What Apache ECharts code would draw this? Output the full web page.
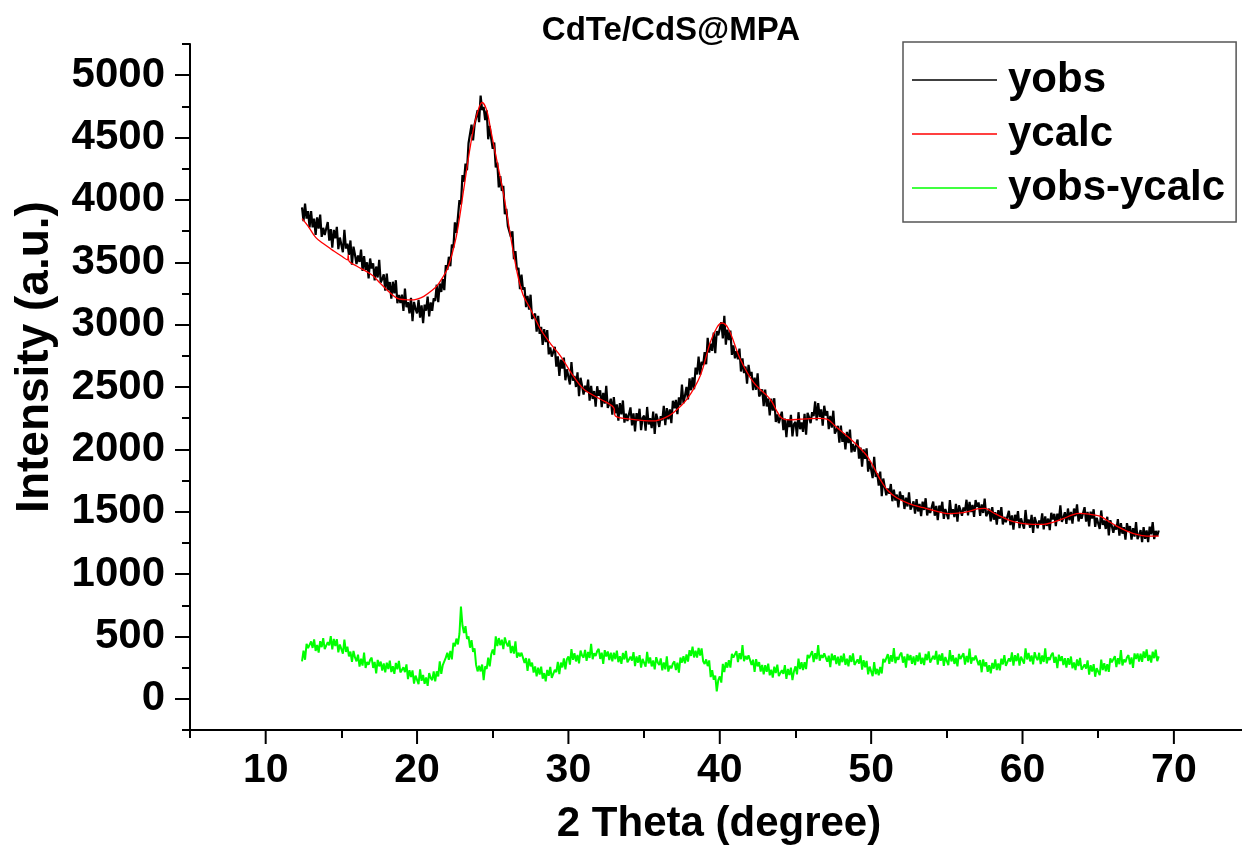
<!DOCTYPE html>
<html>
<head>
<meta charset="utf-8">
<script src="https://cdn.jsdelivr.net/npm/echarts@6/dist/echarts.min.js"></script>
<style>
html,body{margin:0;padding:0;background:#fff;}
#chart{width:1242px;height:849px;}
</style>
</head>
<body>
<div id="chart"></div>
<script>
// ---- data ----
const chartTitle = 'CdTe/CdS@MPA';
const xTitle = '2 Theta (degree)';
const yTitle = 'Intensity (a.u.)';
const seriesNames = ['yobs', 'ycalc', 'yobs-ycalc'];

// measurement grid (2 theta, degrees)
const thetaStart = 12.4;
const thetaStep = 0.1;

// observed intensity, one value per grid step (12.4 ... 69.0)
const yobs = [
3940,3830,3970,3850,3910,3780,
3910,3780,3850,3720,3860,3770,3882,3704,3776,3718,
3720,3822,3674,3766,3618,3760,3692,3784,3606,3698,
3710,3580,3760,3610,3650,3560,3675,3480,3625,3560,
3485,3554,3503,3602,3431,3550,3440,3500,3370,3530,
3450,3492,3354,3466,3378,3520,3338,3366,3404,3272,
3410,3276,3342,3208,3344,3250,3356,3172,3238,3174,
3240,3110,3290,3140,3180,3090,3214,3028,3182,3126,
3090,3198,3056,3154,3012,3160,3112,3224,3066,3178,
3110,3210,3190,3320,3180,3330,3262,3364,3276,3478,
3440,3544,3468,3642,3616,3820,3736,3862,3998,3964,
4200,4146,4292,4238,4454,4440,4604,4478,4602,4596,
4720,4623,4837,4720,4745,4640,4718,4486,4594,4492,
4410,4460,4260,4300,4100,4190,4072,4114,3886,3928,
3790,3806,3702,3748,3524,3590,3438,3456,3284,3402,
3280,3300,3140,3230,3120,3240,3046,3062,3088,2944,
3070,2926,2982,2838,2964,2860,2956,2762,2818,2744,
2730,2822,2664,2746,2588,2720,2648,2736,2554,2642,
2650,2520,2700,2550,2590,2500,2618,2426,2574,2512,
2440,2510,2460,2560,2390,2510,2404,2468,2342,2506,
2430,2474,2338,2452,2366,2510,2332,2364,2406,2278,
2420,2290,2360,2230,2370,2280,2392,2214,2286,2228,
2230,2336,2192,2288,2144,2290,2228,2326,2154,2252,
2270,2150,2340,2200,2250,2170,2302,2124,2286,2238,
2180,2266,2232,2348,2194,2330,2240,2320,2210,2390,
2330,2396,2282,2418,2354,2520,2370,2430,2500,2400,
2570,2474,2578,2482,2656,2600,2744,2598,2702,2676,
2780,2682,2894,2776,2848,2790,2936,2772,2948,2914,
2900,3020,2890,3070,2840,2960,2876,2952,2758,2834,
2730,2786,2722,2808,2624,2730,2612,2664,2526,2678,
2590,2622,2474,2576,2478,2610,2424,2448,2482,2346,
2480,2344,2408,2272,2406,2310,2410,2220,2280,2210,
2200,2302,2154,2246,2098,2240,2178,2276,2104,2202,
2220,2104,2298,2162,2216,2140,2284,2118,2292,2256,
2210,2298,2266,2384,2232,2370,2260,2320,2190,2350,
2270,2306,2162,2268,2174,2310,2126,2152,2188,2054,
2190,2060,2130,2000,2140,2050,2158,1976,2044,1982,
1980,2078,1926,2014,1862,2000,1924,2008,1822,1906,
1910,1770,1940,1780,1810,1710,1822,1624,1766,1698,
1632,1686,1644,1722,1584,1678,1590,1638,1534,1662,
1598,1632,1522,1612,1542,1656,1517,1546,1583,1484,
1601,1502,1563,1464,1581,1514,1608,1470,1532,1490,
1496,1582,1468,1546,1432,1550,1501,1580,1443,1522,
1537,1441,1593,1481,1521,1457,1563,1421,1551,1513,
1467,1534,1505,1596,1471,1578,1498,1554,1458,1594,
1538,1574,1466,1558,1490,1606,1464,1490,1524,1422,
1536,1436,1496,1396,1512,1444,1537,1398,1459,1416,
1421,1507,1393,1471,1357,1475,1426,1505,1368,1447,
1462,1364,1514,1400,1438,1372,1475,1330,1457,1416,
1367,1431,1399,1487,1359,1463,1386,1445,1352,1491,
1438,1483,1384,1485,1426,1551,1418,1453,1496,1403,
1526,1432,1498,1404,1526,1464,1559,1422,1485,1444,
1451,1536,1421,1498,1383,1500,1446,1520,1378,1452,
1462,1362,1510,1394,1430,1362,1460,1310,1432,1386,
1332,1392,1356,1440,1308,1408,1324,1376,1276,1408,
1348,1384,1276,1368,1300,1416,1280,1312,1352,1256,
1376,1283,1350,1257,1380,1319,1416,1281,1346,1307,
1350
];

// difference curve yobs-ycalc (plotted with its offset), same grid
const ydiff = [
300,387,313,440,407,393,
460,408,476,384,432,370,462,414,486,398,
390,454,428,502,396,480,424,478,372,436,
440,362,474,376,418,340,378,296,384,332,
300,354,258,322,266,370,248,296,274,312,
330,248,296,204,312,260,298,226,284,212,
290,238,306,214,262,200,288,236,304,212,
200,252,214,276,158,230,174,228,122,186,
190,118,236,144,192,120,172,104,206,168,
150,220,140,220,180,300,200,270,270,330,
370,312,384,316,448,420,483,436,520,740,
590,527,583,480,500,410,470,377,404,272,
220,265,220,275,150,260,240,330,260,357,
395,352,500,423,487,430,474,398,492,446,
420,468,366,424,362,460,330,370,340,370,
380,288,326,224,322,260,290,210,260,180,
250,194,258,162,206,140,232,184,256,168,
160,232,214,296,198,290,252,324,236,318,
340,274,398,312,366,300,352,284,386,348,
330,392,304,376,328,440,318,366,344,382,
400,320,370,280,390,340,380,310,370,300,
370,318,386,294,342,280,368,316,384,292,
280,338,306,374,262,340,290,350,250,320,
330,258,376,284,332,260,308,236,334,292,
270,324,228,292,236,340,218,266,244,282,
300,230,290,210,330,290,342,284,356,298,
390,344,418,332,386,330,408,346,404,302,
280,316,262,308,174,230,153,187,60,150,
180,130,280,215,292,250,310,250,360,330,
320,382,294,366,318,430,302,344,316,348,
360,272,314,216,318,260,294,218,272,196,
270,216,282,188,234,170,258,206,274,182,
170,230,200,270,160,240,190,250,150,220,
260,196,322,238,294,230,294,238,352,326,
320,382,294,366,318,430,306,352,328,364,
380,298,346,254,362,310,349,278,337,266,
345,294,363,272,321,260,348,296,364,272,
260,316,282,348,234,310,252,304,196,258,
260,182,295,197,240,188,255,203,320,293,
285,358,280,349,298,407,286,335,314,353,
370,290,340,250,360,310,350,280,340,270,
350,300,370,280,330,270,360,310,380,290,
285,345,315,385,275,355,305,365,265,335,
340,270,390,300,350,280,330,260,360,320,
305,365,275,344,293,402,282,331,310,346,
360,270,310,213,316,260,293,216,270,204,
288,242,316,230,284,228,322,276,350,265,
260,324,298,372,266,350,302,364,266,338,
350,282,404,316,368,300,348,276,374,332,
310,369,278,347,296,405,284,333,312,351,
370,289,337,246,354,303,341,270,325,250,
326,273,339,245,292,230,316,262,328,234,
220,276,242,308,194,270,219,278,177,246,
255,190,315,230,285,220,278,216,324,292,
280,342,254,326,278,390,268,316,294,332,
350,276,332,248,364,320,364,298,362,296,
380,328,396,304,352,290,378,326,394,302,
340
];

// calculated (fitted) profile
const calcTheta = [12.4,12.8,13.3,13.8,14.5,15.0,15.4,15.45,15.5,16.0,17.0,17.5,18.0,18.7,19.2,19.6,20.0,20.45,21.0,21.33,21.7,22.0,22.3,22.65,23.09,23.53,23.9,24.3,24.6,24.85,25.29,25.73,26.17,26.61,27.0,27.49,28.15,28.8,29.47,30.2,31.01,32.0,32.99,33.1,34.09,35.0,35.63,36.4,36.95,37.83,38.71,39.37,39.8,40.14,40.58,41.35,42.23,43.33,43.8,44.1,44.65,45.31,45.97,46.5,47.08,47.6,48.4,49.1,49.72,50.2,50.59,51.1,51.69,52.5,53.45,54.3,55.21,55.9,56.53,57.0,57.52,58.1,58.73,59.4,60.05,60.7,61.37,62.0,62.69,63.3,63.79,64.4,65.12,65.6,66.22,66.9,67.54,68.2,68.86,69.0];
const ycalc = [3850,3790,3700,3650,3590,3550,3520,3560,3510,3470,3400,3340,3280,3211,3200,3198,3205,3227,3275,3313,3380,3447,3560,3742,4090,4438,4660,4781,4720,4572,4304,4036,3714,3420,3240,3126,2965,2850,2750,2610,2483,2410,2335,2268,2242,2230,2228,2255,2295,2402,2590,2858,2975,3013,2965,2724,2537,2402,2300,2250,2236,2242,2247,2248,2242,2190,2108,2030,1947,1850,1760,1670,1612,1565,1532,1505,1484,1490,1505,1522,1527,1490,1452,1420,1404,1398,1398,1415,1444,1475,1486,1480,1465,1430,1384,1345,1318,1305,1304,1304];

// axes
const xRange = [5, 74.5];
const xMajorTicks = [10, 20, 30, 40, 50, 60, 70];
const xMinorTicks = [5, 15, 25, 35, 45, 55, 65];
const yRange = [-250, 5250];
const yMajorTicks = [0, 500, 1000, 1500, 2000, 2500, 3000, 3500, 4000, 4500, 5000];
const yMinorTicks = [-250, 250, 750, 1250, 1750, 2250, 2750, 3250, 3750, 4250, 4750, 5250];

// ---- build ----
const obsData = yobs.map((v, i) => [+(thetaStart + i * thetaStep).toFixed(2), v]);
const diffData = ydiff.map((v, i) => [+(thetaStart + i * thetaStep).toFixed(2), v]);
const calcData = ycalc.map((v, i) => [calcTheta[i], v]);

const FONT = '"Liberation Sans", Arial, Helvetica, sans-serif';
const chart = echarts.init(document.getElementById('chart'), null, {renderer: 'canvas'});

const L = 190, R = 0, T = 44, B = 119;
const MAJOR_TICK_LEN = 14;

chart.setOption({
  animation: false,
  backgroundColor: '#fff',
  grid: {left: L, right: R, top: T, bottom: B, containLabel: false},
  xAxis: [{
    // axis line + minor ticks
    type: 'value', min: xRange[0], max: xRange[1], position: 'bottom',
    axisLine: {show: true, onZero: false, lineStyle: {color: '#000', width: 2}},
    splitLine: {show: false},
    axisTick: {show: true, inside: false, customValues: xMinorTicks, length: 8, lineStyle: {color: '#000', width: 2}},
    axisLabel: {show: false}
  }],
  yAxis: [{
    type: 'value', min: yRange[0], max: yRange[1], position: 'left',
    axisLine: {show: true, onZero: false, lineStyle: {color: '#000', width: 2}},
    splitLine: {show: false},
    axisTick: {show: true, customValues: yMajorTicks, length: 15, lineStyle: {color: '#000', width: 2}},
    axisLabel: {show: true, customValues: yMajorTicks, margin: 25, color: '#000', fontSize: 42, fontWeight: 'bold', fontFamily: FONT, formatter: v => String(v)}
  }, {
    type: 'value', min: yRange[0], max: yRange[1], position: 'left', offset: 0,
    axisLine: {show: false, onZero: false},
    splitLine: {show: false},
    axisTick: {show: true, customValues: yMinorTicks, length: 8, lineStyle: {color: '#000', width: 2}},
    axisLabel: {show: false}
  }],
  legend: {
    show: true, orient: 'vertical', left: 903, top: 42,
    padding: [17, 11, 13, 9],
    itemWidth: 85, itemHeight: 1.6, itemGap: 12,
    icon: 'rect',
    borderColor: '#555', borderWidth: 1.5,
    textStyle: {fontSize: 42, fontWeight: 'bold', color: '#000', fontFamily: FONT, lineHeight: 42, padding: [0, 0, 0, 6]},
    data: seriesNames
  },
  series: [
    {name: seriesNames[0], type: 'line', data: obsData, xAxisIndex: 0, yAxisIndex: 0, symbol: 'none', lineStyle: {color: '#000', width: 2.2}, itemStyle: {color: '#000'}, z: 2},
    {name: seriesNames[1], type: 'line', data: calcData, xAxisIndex: 0, yAxisIndex: 0, symbol: 'none', smooth: 0.35, lineStyle: {color: '#ff0000', width: 1.3}, itemStyle: {color: '#ff0000'}, z: 3},
    {name: seriesNames[2], type: 'line', data: diffData, xAxisIndex: 0, yAxisIndex: 0, symbol: 'none', lineStyle: {color: '#00ff00', width: 2}, itemStyle: {color: '#00ff00'}, z: 2},
    {
      // major x tick marks, positioned through the x axis scale
      name: 'xMajorTickMarks', type: 'custom', xAxisIndex: 0, yAxisIndex: 0,
      data: xMajorTicks.map(v => [v, yRange[0]]),
      clip: false, silent: true, z: 10,
      renderItem: (params, api) => {
        const p = api.coord([api.value(0), api.value(1)]);
        return {
          type: 'line',
          shape: {x1: p[0], y1: p[1], x2: p[0], y2: p[1] + MAJOR_TICK_LEN},
          style: {stroke: '#000', lineWidth: 2}
        };
      }
    }
  ]
});

// x tick labels placed through the x axis scale
const axisY = chart.convertToPixel({yAxisIndex: 0}, yRange[0]);
const xLabelEls = xMajorTicks.map(v => ({
  type: 'text',
  x: chart.convertToPixel({xAxisIndex: 0}, v),
  y: axisY + 20,
  style: {text: String(v), align: 'center', verticalAlign: 'top', textAlign: 'center', textVerticalAlign: 'top', font: 'bold 41px ' + FONT, fill: '#000'}
}));

chart.setOption({
  graphic: [
    {type: 'text', x: 671, y: 31, style: {text: chartTitle, align: 'center', verticalAlign: 'middle', textAlign: 'center', textVerticalAlign: 'middle', font: 'bold 33px ' + FONT, fill: '#000'}},
    {type: 'text', x: 719, y: 824, style: {text: xTitle, align: 'center', verticalAlign: 'middle', textAlign: 'center', textVerticalAlign: 'middle', font: 'bold 42px ' + FONT, fill: '#000'}},
    {type: 'text', x: 35, y: 357, rotation: Math.PI / 2, style: {text: yTitle, align: 'center', verticalAlign: 'middle', textAlign: 'center', textVerticalAlign: 'middle', font: 'bold 46px ' + FONT, fill: '#000'}}
  ].concat(xLabelEls)
});
</script>
</body>
</html>
